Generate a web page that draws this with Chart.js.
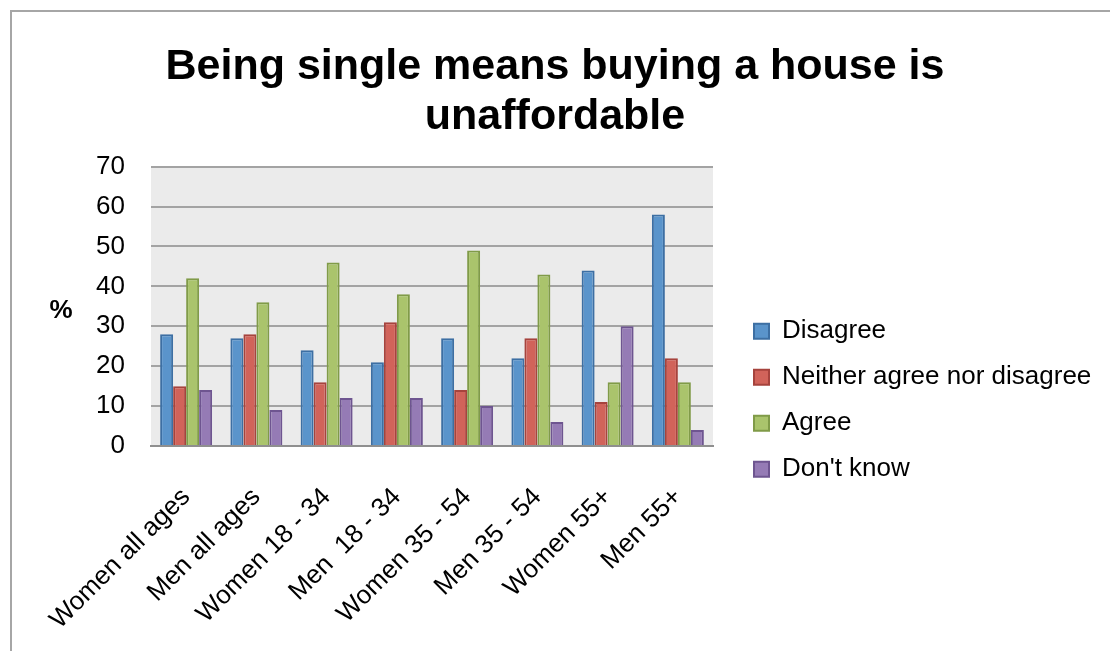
<!DOCTYPE html>
<html>
<head>
<meta charset="utf-8">
<title>Being single means buying a house is unaffordable</title>
<script src="https://cdn.jsdelivr.net/npm/chart.js@4/dist/chart.umd.min.js"></script>
<style>
  html, body { margin: 0; padding: 0; background: #ffffff; }
  #wrap { position: relative; width: 1110px; height: 651px; }
</style>
</head>
<body>
<div id="wrap"><canvas id="chart" width="1110" height="651"></canvas></div>
<script>
// Survey groups along the horizontal axis
const categories = [
  'Women all ages', 'Men all ages', 'Women 18 - 34', 'Men  18 - 34',
  'Women 35 - 54', 'Men 35 - 54', 'Women 55+', 'Men 55+'
];

// Response shares (%) per group
const disagree    = [28, 27, 24, 21, 27, 22, 44, 58];
const neither     = [15, 28, 16, 31, 14, 27, 11, 22];
const agree       = [42, 36, 46, 38, 49, 43, 16, 16];
const dontKnow    = [14,  9, 12, 12, 10,  6, 30,  4];

const seriesNames = ['Disagree', 'Neither agree nor disagree', 'Agree', "Don't know"];
const yTicks      = [0, 10, 20, 30, 40, 50, 60, 70];
const titleLines  = ['Being single means buying a house is', 'unaffordable'];
const yAxisLabel  = '%';

const FONT = "'Liberation Sans', Arial, Helvetica, sans-serif";
Chart.defaults.font.family = FONT;
Chart.defaults.color = '#000000';

const fills   = ['#5a94cb', '#d1635a', '#aac46c', '#957bb5'];
const borders = ['#3d6fa3', '#a6433d', '#809b48', '#6e5590'];
const seriesValues = [disagree, neither, agree, dontKnow];

// Outer chart frame and grey plot background
const framePlugin = {
  id: 'frame',
  beforeDraw(chart) {
    const { ctx, chartArea: a } = chart;
    ctx.save();
    ctx.fillStyle = '#ffffff';
    ctx.fillRect(0, 0, chart.width, chart.height);
    ctx.strokeStyle = '#a6a6a6';
    ctx.lineWidth = 2;
    ctx.beginPath();
    ctx.moveTo(11, chart.height);
    ctx.lineTo(11, 11);
    ctx.lineTo(chart.width, 11);
    ctx.stroke();
    ctx.fillStyle = '#ebebeb';
    ctx.fillRect(a.left, a.top, a.right - a.left, a.bottom - a.top);
    ctx.restore();
  }
};

// Horizontal "%" caption left of the value axis
const unitLabelPlugin = {
  id: 'unitLabel',
  afterDraw(chart) {
    const { ctx, chartArea: a } = chart;
    ctx.save();
    ctx.font = 'bold 26px ' + FONT;
    ctx.fillStyle = '#000000';
    ctx.textAlign = 'center';
    ctx.textBaseline = 'middle';
    ctx.fillText(yAxisLabel, 61, (a.top + a.bottom) / 2 + 5);
    ctx.restore();
  }
};

// Legend column: fixed width, inset from the plot, centred below the title
const LEGEND_WIDTH = 397;
const LEGEND_INSET = 21;
const legendPlacement = {
  id: 'legendPlacement',
  beforeLayout(chart) {
    const lg = chart.legend;
    if (lg && !lg.__fixedWidth) {
      const fit = lg.fit;
      lg.fit = function () { fit.call(this); this.width = LEGEND_WIDTH; };
      lg.__fixedWidth = true;
    }
  },
  afterLayout(chart) {
    const lg = chart.legend;
    if (!lg) return;
    lg.left += LEGEND_INSET;
    lg.top = chart.titleBlock ? chart.titleBlock.bottom : lg.top;
    lg.bottom = chart.height - 17;
    lg.height = lg.bottom - lg.top;
  }
};

new Chart(document.getElementById('chart'), {
  type: 'bar',
  data: {
    labels: categories,
    datasets: seriesNames.map((name, i) => ({
      label: name,
      data: seriesValues[i],
      backgroundColor: fills[i],
      borderColor: borders[i],
      borderWidth: 2,
      categoryPercentage: 0.74,
      barPercentage: 1.0
    }))
  },
  options: {
    responsive: false,
    animation: false,
    layout: { padding: { left: 0, right: 0, top: 0, bottom: 0 } },
    scales: {
      x: {
        grid: { display: false, drawTicks: false },
        border: { display: true, color: '#8f8f8f', width: 2 },
        ticks: {
          autoSkip: false,
          minRotation: 45,
          maxRotation: 45,
          padding: 36,
          font: { size: 26 },
          color: '#000000'
        },
        afterFit(scale) { scale.height = 205; }
      },
      y: {
        min: 0,
        max: 70,
        afterBuildTicks(scale) { scale.ticks = yTicks.map(v => ({ value: v })); },
        grid: { color: '#a3a3a3', lineWidth: 2, drawTicks: false },
        border: { display: false },
        ticks: { padding: 26, font: { size: 26 }, color: '#000000' },
        afterFit(scale) { scale.width = 151; }
      }
    },
    plugins: {
      title: {
        display: true,
        text: titleLines,
        color: '#000000',
        font: { size: 43, weight: 'bold', lineHeight: 1.17 },
        padding: { top: 42, bottom: 24 }
      },
      legend: {
        display: true,
        position: 'right',
        align: 'center',
        labels: {
          boxWidth: 15,
          boxHeight: 15,
          padding: 20,
          color: '#000000',
          font: { size: 26 }
        }
      },
      tooltip: { enabled: false }
    }
  },
  plugins: [framePlugin, unitLabelPlugin, legendPlacement]
});
</script>
</body>
</html>
